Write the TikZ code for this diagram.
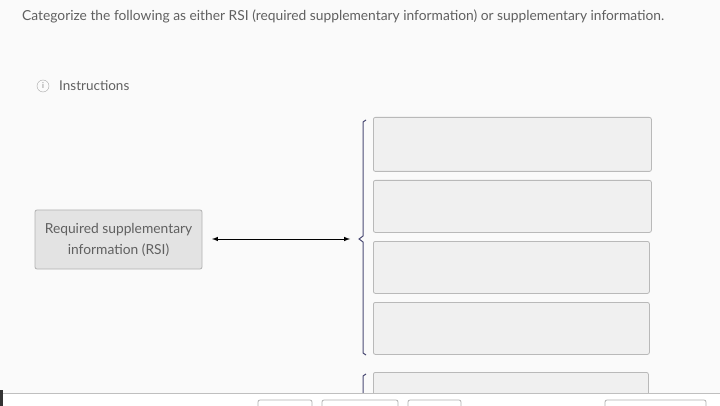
\documentclass[tikz,border=0pt]{standalone}
\usepackage{fontspec}
\setmainfont{Lato}
\begin{document}
\begin{tikzpicture}[x=1pt,y=-1pt,
  slot/.style={draw=gray!55,fill=gray!12,rounded corners=2pt,line width=0.8pt,anchor=north west},
  brk/.style={draw=black!60!blue!40!gray,line width=1pt},
  txt/.style={text=gray!75!black,inner sep=0pt}]
\useasboundingbox[fill=gray!4] (0,0) rectangle (720,406);
\node[txt,anchor=west,font=\fontsize{13.8}{16}\selectfont] (title) at (22,16) {Categorize the following as either RSI (required supplementary information) or supplementary information.};
\node[draw=gray!70,circle,inner sep=0pt,minimum size=12pt,font=\fontsize{8}{8}\selectfont,text=gray] (icon) at (43,86) {i};
\node[txt,anchor=west,font=\fontsize{13.5}{16}\selectfont] (instr) at (59,86) {Instructions};
\node[draw=gray!60,fill=gray!22,rounded corners=2pt,line width=0.8pt,minimum width=167pt,minimum height=59pt,align=center,txt,font=\fontsize{13.8}{21}\selectfont] (rsi) at (118.5,239.5) {Required supplementary\\information (RSI)};
\coordinate (bl) at (350,239);
\draw[line width=1pt,<->,>=latex] (212,239) -- (bl);
\draw[brk] (366,120) -- (363,122) -- (363,236) -- (359,239) -- (363,242) -- (363,353) -- (366,355);
\draw[brk] (366,374) -- (363,376) -- (363,394);
\node[slot,minimum width=278pt,minimum height=54pt] (s1) at (373,117) {};
\node[slot,minimum width=278pt,minimum height=52pt] (s2) at (373,180) {};
\node[slot,minimum width=276pt,minimum height=52pt] (s3) at (373,241) {};
\node[slot,minimum width=276pt,minimum height=52pt] (s4) at (373,302) {};
\node[slot,minimum width=275pt,minimum height=30pt] (s5) at (373,372) {};
\fill[white] (0,393) rectangle (720,406);
\draw[gray!50,line width=0.8pt] (0,393) -- (720,393);
\fill[black!80] (0,390) rectangle (3,406);
\foreach \a/\b in {258/312,322/398,408/461,605/706}
  \draw[gray!60,rounded corners=2pt,line width=0.8pt] (\a,410) -- (\a,400) -- (\b,400) -- (\b,410);
\end{tikzpicture}
\end{document}
